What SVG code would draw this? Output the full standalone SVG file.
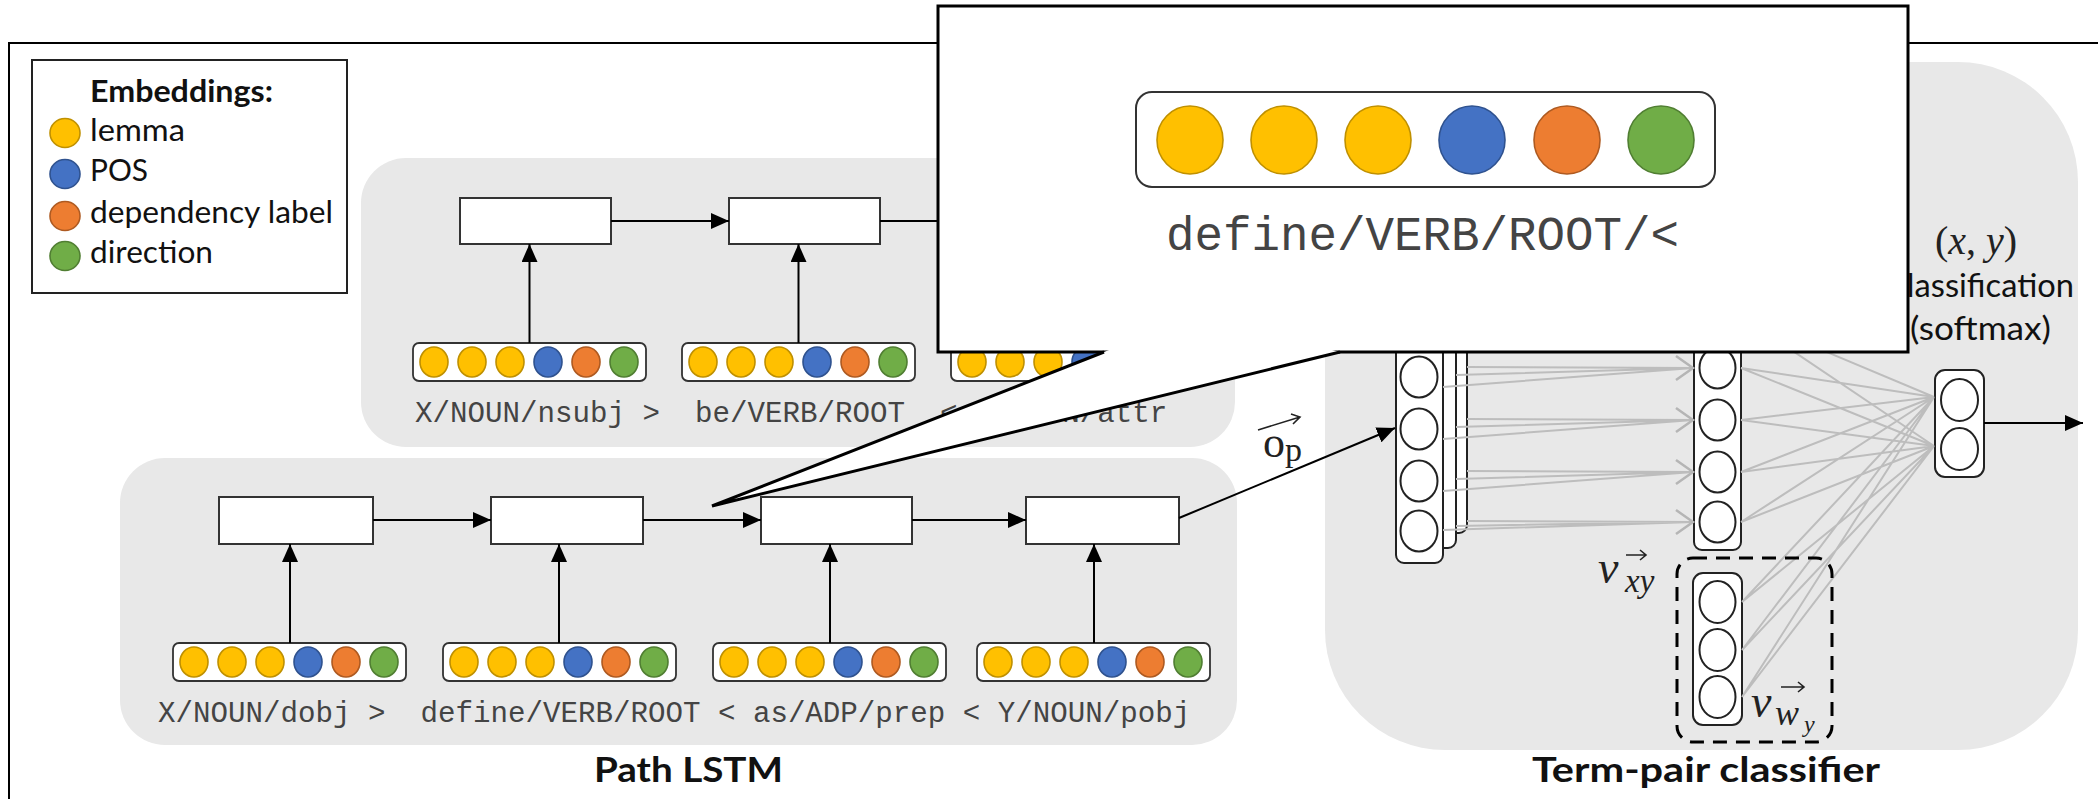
<svg xmlns="http://www.w3.org/2000/svg" width="2098" height="799" viewBox="0 0 2098 799">
<defs>
<style>
.panel{fill:#E8E8E8}
.cell{fill:#fff;stroke:#333;stroke-width:2}
.bar{fill:#fff;stroke:#333;stroke-width:1.8}
.ey{fill:#FFC000;stroke:#BF9000;stroke-width:1.6}
.eb{fill:#4472C4;stroke:#2F528F;stroke-width:1.6}
.eo{fill:#ED7D31;stroke:#AE5A21;stroke-width:1.6}
.eg{fill:#70AD47;stroke:#507E32;stroke-width:1.6}
.arr{stroke:#000;stroke-width:2;fill:none;marker-end:url(#ah)}
.mono{font-family:"Liberation Mono","Courier New",monospace;fill:#444;white-space:pre}
.sans{font-family:Lato,"Open Sans","Liberation Sans",sans-serif;fill:#111}
.math{font-family:"Liberation Serif","DejaVu Serif",serif;fill:#222}
.col{fill:#fff;stroke:#222;stroke-width:2}
.neu{fill:#fff;stroke:#222;stroke-width:2}
.gl{stroke:#BDBDBD;stroke-width:2;fill:none}
.chev{stroke:#B5B5B5;stroke-width:2.5;fill:none}
.vec{stroke:#222;stroke-width:1.6;fill:none}
</style>
<marker id="ah" viewBox="0 0 18 16" markerWidth="18" markerHeight="16" refX="18" refY="8" orient="auto" markerUnits="userSpaceOnUse"><path d="M0,0 L18,8 L0,16 z" fill="#000"/></marker>
<g id="embbar">
<rect class="bar" x="0" y="0" width="233" height="38" rx="6"/>
<ellipse class="ey" cx="21" cy="19" rx="14" ry="15"/>
<ellipse class="ey" cx="59" cy="19" rx="14" ry="15"/>
<ellipse class="ey" cx="97" cy="19" rx="14" ry="15"/>
<ellipse class="eb" cx="135" cy="19" rx="14" ry="15"/>
<ellipse class="eo" cx="173" cy="19" rx="14" ry="15"/>
<ellipse class="eg" cx="211" cy="19" rx="14" ry="15"/>
</g>
</defs>

<rect width="2098" height="799" fill="#fff"/>

<rect id="frame" x="9" y="43" width="2200" height="900" fill="none" stroke="#000" stroke-width="2"/>

<g id="legend">
<rect x="32" y="60" width="315" height="233" fill="#fff" stroke="#222" stroke-width="2"/>
<text class="sans" x="90" y="102" font-size="31" font-weight="bold" textLength="183" lengthAdjust="spacingAndGlyphs">Embeddings:</text>
<ellipse class="ey" cx="65" cy="133" rx="15" ry="14.5"/>
<text class="sans" x="90" y="141" font-size="31" textLength="95" lengthAdjust="spacingAndGlyphs">lemma</text>
<ellipse class="eb" cx="65" cy="174" rx="15" ry="14.5"/>
<text class="sans" x="90" y="181" font-size="31" textLength="58" lengthAdjust="spacingAndGlyphs">POS</text>
<ellipse class="eo" cx="65" cy="216" rx="15" ry="14.5"/>
<text class="sans" x="90" y="223" font-size="31" textLength="243" lengthAdjust="spacingAndGlyphs">dependency label</text>
<ellipse class="eg" cx="65" cy="256" rx="15" ry="14.5"/>
<text class="sans" x="90" y="263" font-size="31" textLength="123" lengthAdjust="spacingAndGlyphs">direction</text>
</g>

<rect id="panel-top" class="panel" x="361" y="158" width="874" height="289" rx="45"/>
<rect id="panel-bottom" class="panel" x="120" y="458" width="1117" height="287" rx="45"/>
<rect id="panel-term" class="panel" x="1325" y="62" width="753" height="688" rx="120"/>

<g id="top-path">
<rect class="cell" x="460" y="198" width="151" height="46"/>
<rect class="cell" x="729" y="198" width="151" height="46"/>
<rect class="cell" x="998" y="198" width="151" height="46"/>
<use href="#embbar" x="413" y="343"/>
<use href="#embbar" x="682" y="343"/>
<use href="#embbar" x="951" y="343"/>
<text class="mono" x="415" y="422" font-size="29.17" xml:space="preserve">X/NOUN/nsubj &gt;  be/VERB/ROOT  &lt; Y/NOUN/attr</text>
</g>

<g id="bottom-path">
<rect class="cell" x="219" y="497" width="154" height="47"/>
<rect class="cell" x="491" y="497" width="152" height="47"/>
<rect class="cell" x="761" y="497" width="151" height="47"/>
<rect class="cell" x="1026" y="497" width="153" height="47"/>
<use href="#embbar" x="173" y="643"/>
<use href="#embbar" x="443" y="643"/>
<use href="#embbar" x="713" y="643"/>
<use href="#embbar" x="977" y="643"/>
<text class="mono" x="158" y="722" font-size="29.17" xml:space="preserve">X/NOUN/dobj &gt;  define/VERB/ROOT &lt; as/ADP/prep &lt; Y/NOUN/pobj</text>
</g>

<text id="label-path" class="sans" x="594" y="782" font-size="34" font-weight="bold" textLength="189" lengthAdjust="spacingAndGlyphs">Path LSTM</text>
<text id="label-term" class="sans" x="1532" y="782" font-size="34" font-weight="bold" textLength="348" lengthAdjust="spacingAndGlyphs">Term-pair classifier</text>

<g id="stack-left">
<rect class="col" x="1420" y="250" width="47" height="283" rx="8"/>
<rect class="col" x="1408" y="265" width="48" height="283" rx="8"/>
<rect class="col" x="1396" y="280" width="47" height="283" rx="8"/>
<ellipse class="neu" cx="1419" cy="325" rx="18.5" ry="20.5"/>
<ellipse class="neu" cx="1419" cy="377" rx="18.5" ry="20.5"/>
<ellipse class="neu" cx="1419" cy="429" rx="18.5" ry="20.5"/>
<ellipse class="neu" cx="1419" cy="481" rx="18.5" ry="20.5"/>
<ellipse class="neu" cx="1419" cy="531" rx="18.5" ry="20.5"/>
</g>

<g id="hidden-col">
<rect class="col" x="1694" y="280" width="47" height="270" rx="8"/>
<ellipse class="neu" cx="1717.5" cy="316" rx="18" ry="20.5"/>
<ellipse class="neu" cx="1717.5" cy="368" rx="18" ry="20.5"/>
<ellipse class="neu" cx="1717.5" cy="420" rx="18" ry="20.5"/>
<ellipse class="neu" cx="1717.5" cy="472" rx="18" ry="20.5"/>
<ellipse class="neu" cx="1717.5" cy="522" rx="18" ry="20.5"/>
</g>

<g id="vwy-col">
<rect class="col" x="1693" y="573" width="49" height="152" rx="10"/>
<ellipse class="neu" cx="1717.5" cy="602" rx="18" ry="21"/>
<ellipse class="neu" cx="1717.5" cy="650" rx="18" ry="21"/>
<ellipse class="neu" cx="1717.5" cy="697" rx="18" ry="21"/>
</g>

<g id="output-col">
<rect class="col" x="1935" y="370" width="49" height="107" rx="10"/>
<ellipse class="neu" cx="1959.5" cy="400" rx="18.5" ry="21"/>
<ellipse class="neu" cx="1959.5" cy="449" rx="18.5" ry="21"/>
</g>

<g id="connectors">
<path class="gl" d="M1467,315 L1693,316 M1456,323 L1693,316 M1443,335 L1693,316
M1467,367 L1693,368 M1456,375 L1693,368 M1443,387 L1693,368
M1467,419 L1693,420 M1456,427 L1693,420 M1443,439 L1693,420
M1467,471 L1693,472 M1456,479 L1693,472 M1443,491 L1693,472
M1467,521 L1693,522 M1456,526 L1693,522 M1443,530 L1693,522"/>
<path class="chev" d="M1676,304 L1693,316 L1676,328 M1676,356 L1693,368 L1676,380 M1676,408 L1693,420 L1676,432 M1676,460 L1693,472 L1676,484 M1676,510 L1693,522 L1676,534"/>
<path class="gl" d="M1741,316 L1934,397 M1741,316 L1934,446
M1741,368 L1934,397 M1741,368 L1934,446
M1741,420 L1934,397 M1741,420 L1934,446
M1741,472 L1934,397 M1741,472 L1934,446
M1741,522 L1934,397 M1741,522 L1934,446
M1742,602 L1934,397 M1742,602 L1934,446
M1742,650 L1934,397 M1742,650 L1934,446
M1742,697 L1934,397 M1742,697 L1934,446"/>
<line class="arr" x1="529.5" y1="343" x2="529.5" y2="244"/>
<line class="arr" x1="798.5" y1="343" x2="798.5" y2="244"/>
<line class="arr" x1="1067.5" y1="343" x2="1067.5" y2="244"/>
<line class="arr" x1="611" y1="221" x2="729" y2="221"/>
<line class="arr" x1="880" y1="221" x2="998" y2="221"/>
<line class="arr" x1="290" y1="643" x2="290" y2="544"/>
<line class="arr" x1="559" y1="643" x2="559" y2="544"/>
<line class="arr" x1="830" y1="643" x2="830" y2="544"/>
<line class="arr" x1="1094" y1="643" x2="1094" y2="544"/>
<line class="arr" x1="373" y1="520" x2="491" y2="520"/>
<line class="arr" x1="643" y1="520" x2="761" y2="520"/>
<line class="arr" x1="912" y1="520" x2="1026" y2="520"/>
<line class="arr" x1="1179" y1="518" x2="1395" y2="428"/>
<line class="arr" x1="1984" y1="423" x2="2083" y2="423"/>
</g>

<rect id="dashed-box" x="1677" y="558" width="155" height="184" rx="16" fill="none" stroke="#000" stroke-width="3" stroke-dasharray="14 9"/>

<g id="label-op" class="math">
<text x="1263" y="457" font-size="44">o</text>
<text x="1285" y="461" font-size="34">p</text>
<path class="vec" d="M1258,430 L1300,417 M1291,414 L1300,417 L1293,424"/>
</g>
<g id="label-vxy" class="math">
<text x="1598" y="583" font-size="46" font-style="italic">v</text>
<text x="1625" y="592" font-size="33" font-style="italic">xy</text>
<path class="vec" d="M1626,555 L1646,555 M1640,550 L1646,555 L1640,560"/>
</g>
<g id="label-vwy" class="math">
<text x="1751" y="717" font-size="46" font-style="italic">v</text>
<text x="1775" y="725" font-size="36" font-style="italic">w</text>
<text x="1804" y="732" font-size="24" font-style="italic">y</text>
<path class="vec" d="M1781,687 L1804,687 M1798,682 L1804,687 L1798,692"/>
</g>

<g id="label-classification">
<text class="math" x="1976" y="254" font-size="40" text-anchor="middle">(<tspan font-style="italic">x</tspan>, <tspan font-style="italic">y</tspan>)</text>
<text class="sans" x="1885" y="297" font-size="33" textLength="189" lengthAdjust="spacingAndGlyphs">Classification</text>
<text class="sans" x="1910" y="340" font-size="33" textLength="141" lengthAdjust="spacingAndGlyphs">(softmax)</text>
</g>

<g id="callout">
<rect x="938" y="6" width="970" height="346" fill="#fff" stroke="#000" stroke-width="3"/>
<polygon points="1111.6,349 1104,352 712,506 1340,352 1327.8,349" fill="#fff"/>
<polyline points="1104,352 712,506 1340,352" fill="none" stroke="#000" stroke-width="3" stroke-linejoin="miter"/>
<rect x="1136" y="92" width="579" height="95" rx="16" fill="#fff" stroke="#333" stroke-width="2"/>
<ellipse class="ey" cx="1190" cy="140" rx="33" ry="34" stroke-width="2.5"/>
<ellipse class="ey" cx="1284" cy="140" rx="33" ry="34" stroke-width="2.5"/>
<ellipse class="ey" cx="1378" cy="140" rx="33" ry="34" stroke-width="2.5"/>
<ellipse class="eb" cx="1472" cy="140" rx="33" ry="34" stroke-width="2.5"/>
<ellipse class="eo" cx="1567" cy="140" rx="33" ry="34" stroke-width="2.5"/>
<ellipse class="eg" cx="1661" cy="140" rx="33" ry="34" stroke-width="2.5"/>
<text class="mono" x="1166" y="250" font-size="47.5" fill="#222">define/VERB/ROOT/&lt;</text>
</g>
</svg>
